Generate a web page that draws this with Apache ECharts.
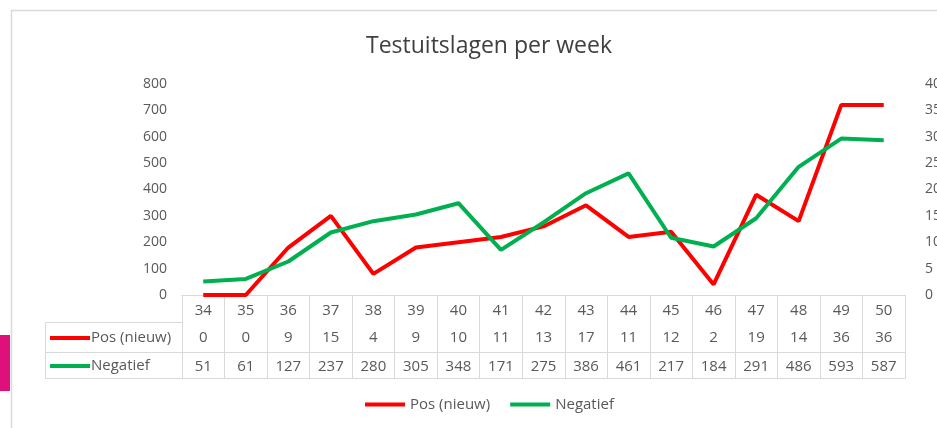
<!DOCTYPE html>
<html>
<head>
<meta charset="utf-8">
<script src="https://cdn.jsdelivr.net/npm/echarts@6/dist/echarts.min.js"></script>
<style>
  html, body { margin: 0; padding: 0; background: #fff; }
  #chart { width: 937px; height: 428px; }
</style>
</head>
<body>
<div id="chart"></div>
<script>
const weeks = ['34', '35', '36', '37', '38', '39', '40', '41', '42', '43', '44', '45', '46', '47', '48', '49', '50'];
const posNieuw = [0, 0, 9, 15, 4, 9, 10, 11, 13, 17, 11, 12, 2, 19, 14, 36, 36];
const negatief = [51, 61, 127, 237, 280, 305, 348, 171, 275, 386, 461, 217, 184, 291, 486, 593, 587];

const RED = '#ff0000';
const GREEN = '#00b050';
const TEXT = '#595959';
const BORDER = '#d9d9d9';
const FONT = '"Open Sans", "Liberation Sans", sans-serif';

const instance = echarts.init(document.getElementById('chart'));

// extra category axes below the plot act as the rows of the data table
function tableAxis(data, offset, margin, showLabel) {
  return {
    type: 'category',
    data: data,
    position: 'bottom',
    offset: offset,
    boundaryGap: true,
    axisLine: { show: true, lineStyle: { color: BORDER, width: 1 } },
    axisTick: { show: false },
    axisLabel: {
      show: showLabel,
      margin: margin,
      color: TEXT,
      fontSize: 15,
      fontFamily: FONT,
      interval: 0
    },
    splitLine: { show: false }
  };
}

const weekAxis = tableAxis(weeks, 0, 8, true);
weekAxis.axisTick = { show: true, length: 83, alignWithLabel: false, lineStyle: { color: BORDER } };

const option = {
  backgroundColor: '#fff',
  animation: false,
  title: {
    text: 'Testuitslagen per week',
    left: 484,
    textAlign: 'center',
    top: 30,
    textStyle: { color: '#404040', fontSize: 23, fontWeight: 'normal', fontFamily: FONT }
  },
  grid: { left: 182, right: 32, top: 84, bottom: 133, containLabel: false, outerBoundsMode: 'none' },
  legend: {
    bottom: 11,
    left: 360,
    icon: 'rect',
    itemWidth: 40,
    itemHeight: 4,
    itemGap: 20,
    textStyle: { color: TEXT, fontSize: 15, fontFamily: FONT },
    data: ['Pos (nieuw)', 'Negatief']
  },
  xAxis: [
    weekAxis,
    tableAxis(posNieuw.map(String), 27, 8, true),
    tableAxis(negatief.map(String), 57, 7, true),
    tableAxis(weeks, 83, 8, false)
  ],
  yAxis: [
    {
      type: 'value',
      min: 0,
      max: 800,
      interval: 100,
      axisLine: { show: false },
      axisTick: { show: false },
      splitLine: { show: false },
      axisLabel: { margin: 15, color: TEXT, fontSize: 14, fontFamily: FONT }
    },
    {
      type: 'value',
      position: 'right',
      min: 0,
      max: 40,
      interval: 5,
      axisLine: { show: false },
      axisTick: { show: false },
      splitLine: { show: false },
      axisLabel: { margin: 20, color: TEXT, fontSize: 14, fontFamily: FONT }
    }
  ],
  series: [
    {
      name: 'Pos (nieuw)',
      type: 'line',
      xAxisIndex: 0,
      yAxisIndex: 1,
      data: posNieuw,
      showSymbol: false,
      symbol: 'none',
      itemStyle: { color: RED },
      lineStyle: { color: RED, width: 4 }
    },
    {
      name: 'Negatief',
      type: 'line',
      xAxisIndex: 0,
      yAxisIndex: 0,
      data: negatief,
      showSymbol: false,
      symbol: 'none',
      itemStyle: { color: GREEN },
      lineStyle: { color: GREEN, width: 4 }
    }
  ],
  graphic: [
    // chart frame
    { type: 'rect', shape: { x: 11.5, y: 10.5, width: 1000, height: 1000 }, style: { fill: null, stroke: BORDER, lineWidth: 1.5 }, silent: true },
    // slide accent
    { type: 'rect', shape: { x: 0, y: 335, width: 10, height: 56 }, style: { fill: '#e0107a' }, silent: true },
    // table row header column
    { type: 'rect', shape: { x: 45.5, y: 322.5, width: 137, height: 56 }, style: { fill: null, stroke: BORDER, lineWidth: 1 }, silent: true },
    { type: 'line', shape: { x1: 45.5, y1: 352.5, x2: 182.5, y2: 352.5 }, style: { stroke: BORDER, lineWidth: 1 }, silent: true },
    { type: 'line', shape: { x1: 50, y1: 338, x2: 90, y2: 338 }, style: { stroke: RED, lineWidth: 4 }, silent: true },
    { type: 'text', x: 91, y: 338, style: { text: 'Pos (nieuw)', fill: TEXT, fontSize: 15, fontFamily: FONT, verticalAlign: 'middle' }, silent: true },
    { type: 'line', shape: { x1: 50, y1: 366, x2: 90, y2: 366 }, style: { stroke: GREEN, lineWidth: 4 }, silent: true },
    { type: 'text', x: 91, y: 366, style: { text: 'Negatief', fill: TEXT, fontSize: 15, fontFamily: FONT, verticalAlign: 'middle' }, silent: true }
  ]
};

instance.setOption(option);

window.addEventListener('resize', function () {
  instance.resize();
});
</script>
</body>
</html>
